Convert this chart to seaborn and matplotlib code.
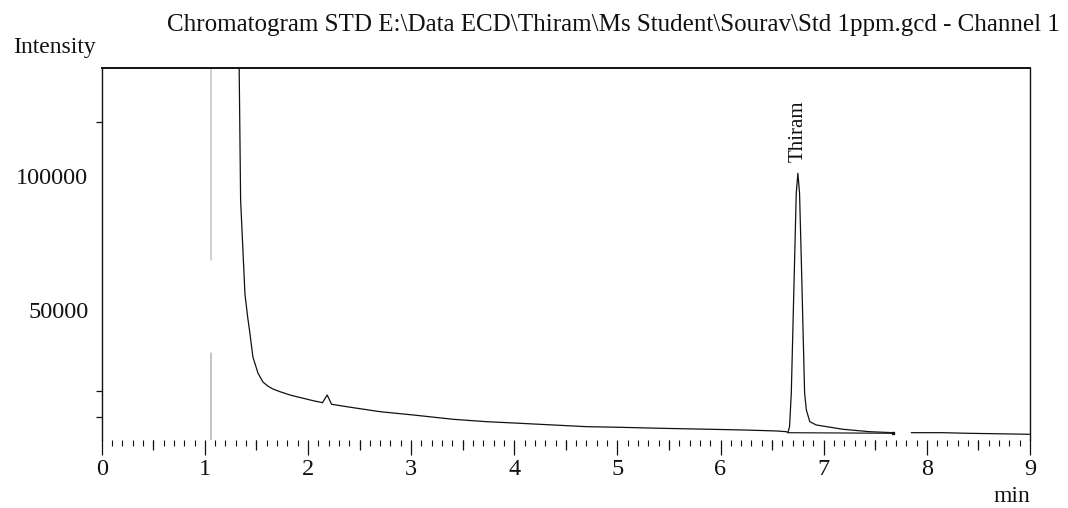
import numpy as np
import pandas as pd
import matplotlib
matplotlib.use("Agg")
import matplotlib.pyplot as plt
import seaborn as sns

# ---- data ----
time_seg1 = [1.326, 1.333, 1.347, 1.389, 1.415, 1.437, 1.466, 1.515, 1.563, 1.610,
             1.660, 1.728, 1.825, 1.890, 2.050, 2.141, 2.186, 2.229, 2.374, 2.697,
             3.019, 3.407, 3.731, 4.053, 4.376, 4.700, 5.022, 5.410, 5.894, 6.217,
             6.541, 6.638, 6.653, 6.669, 6.686, 6.718, 6.734, 6.750, 6.766, 6.783,
             6.815, 6.832, 6.865, 6.928, 7.186, 7.444, 7.671]
intensity_seg1 = [160000, 140200, 91000, 56000, 47500, 41450, 32530, 26560, 23210, 21700,
                  20600, 19600, 18370, 17730, 16240, 15500, 18370, 14900, 14010, 12150,
                  10920, 9310, 8420, 7820, 7190, 6560, 6330, 5960, 5590, 5330,
                  4960, 4690, 4320, 6560, 19110, 68670, 93520, 100970, 93520, 68670,
                  19110, 12780, 8420, 7190, 5590, 4690, 4320]
time_seg2 = [7.849, 8.155, 8.382, 8.995]
intensity_seg2 = [4320, 4320, 4100, 3730]

baseline_time = [6.653, 7.671]
baseline_intensity = [4320, 4100]

peak_name = "Thiram"
peak_time = 6.750
peak_label_intensity = 105200

event_time = 1.056

y_tick_labelled = [50000, 100000]
y_tick_minor = [10000, 20000, 120000]
x_ticks = list(range(0, 10))

title = r"Chromatogram STD E:\Data ECD\Thiram\Ms Student\Sourav\Std 1ppm.gcd - Channel 1"
y_label = "Intensity"
x_label = "min"

# ---- build frame ----
df = pd.concat([
    pd.DataFrame({"time": time_seg1, "intensity": intensity_seg1, "seg": 1}),
    pd.DataFrame({"time": time_seg2, "intensity": intensity_seg2, "seg": 2}),
], ignore_index=True)
df_base = pd.DataFrame({"time": baseline_time, "intensity": baseline_intensity})

sns.set_style("white")
plt.rcParams["font.family"] = ["Liberation Serif", "DejaVu Serif"]

fig = plt.figure(figsize=(10.68, 5.08), dpi=100)
ax = fig.add_axes([0.0952, 0.1339, 0.8692, 0.7323])

sns.lineplot(data=df, x="time", y="intensity", units="seg", estimator=None,
             color="#111111", linewidth=0.9, ax=ax, legend=False)
sns.lineplot(data=df_base, x="time", y="intensity", color="#222222",
             linewidth=0.9, ax=ax, legend=False)
ax.plot(baseline_time[-1:], baseline_intensity[-1:], marker="s", markersize=2,
        color="#111111", linestyle="none")

# event marker line
ax.axvline(event_time, ymin=0.484, ymax=1.0, color="#c4c4c4", linewidth=1.1)
ax.axvline(event_time, ymin=0.0, ymax=0.234, color="#b4b4b4", linewidth=1.1)

ax.text(peak_time, peak_label_intensity, peak_name, rotation=90, ha="center",
        va="bottom", fontsize=15, color="#111111")

ax.set_xlim(0, 9)
ax.set_ylim(1600, 140200)

ax.set_yticks(y_tick_labelled)
ax.set_yticklabels([str(v) for v in y_tick_labelled])
ax.set_yticks(y_tick_minor, minor=True)
ax.tick_params(axis="y", which="major", length=0, pad=9.5, labelsize=17.5, colors="#111111")
ax.tick_params(axis="y", which="minor", length=4.3, width=0.9, color="#111111", left=True)

ax.set_xticks(x_ticks)
ax.set_xticklabels([str(v) for v in x_ticks])
ax.set_xticks(np.arange(0, 9.01, 0.1), minor=True)
ax.tick_params(axis="x", which="major", length=11, width=0.9, pad=3, labelsize=17.5,
               colors="#111111", bottom=True)
ax.tick_params(axis="x", which="minor", length=4.5, width=0.8, color="#111111", bottom=True)

sec = ax.secondary_xaxis("bottom")
sec.set_xticks(np.arange(0.5, 9, 1.0))
sec.set_xticklabels([])
sec.tick_params(axis="x", length=7.5, width=0.9, color="#111111")
sec.spines["bottom"].set_visible(False)

ax.set_xlabel("")
ax.set_ylabel("")
for s in ["top", "left", "right"]:
    ax.spines[s].set_visible(True)
    ax.spines[s].set_color("#111111")
    ax.spines[s].set_linewidth(1.0)
ax.spines["top"].set_linewidth(1.4)
ax.spines["bottom"].set_visible(False)

fig.text(0.9925, 0.951, title, ha="right", va="center", fontsize=18, color="#111111")
fig.text(0.012, 0.907, y_label, ha="left", va="center", fontsize=17, color="#111111")
fig.text(0.9644, 0.0236, x_label, ha="right", va="center", fontsize=17, color="#111111")

fig.savefig("out.png", dpi=100, facecolor="white")
